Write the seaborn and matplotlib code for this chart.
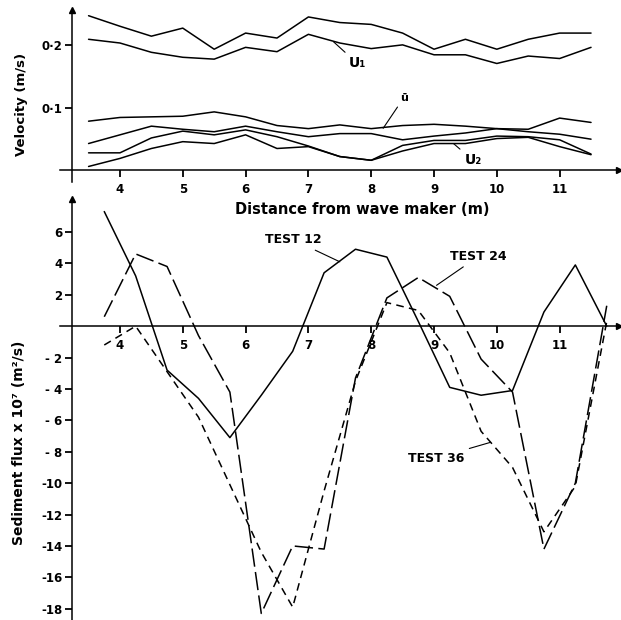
import pandas as pd
import seaborn as sns
import matplotlib.pyplot as plt

# --- top panel: velocities (m/s) along the flume ---
dist_top = [3.5, 4.0, 4.5, 5.0, 5.5, 6.0, 6.5, 7.0, 7.5, 8.0, 8.5, 9.0, 9.5, 10.0, 10.5, 11.0, 11.5]
u1_upper = [0.248, 0.231, 0.215, 0.228, 0.194, 0.220, 0.212, 0.246, 0.237, 0.234, 0.220, 0.194, 0.210, 0.194, 0.210, 0.220, 0.220]
u1_lower = [0.210, 0.204, 0.189, 0.181, 0.178, 0.197, 0.190, 0.218, 0.204, 0.195, 0.201, 0.185, 0.185, 0.171, 0.183, 0.179, 0.197]
ubar = [0.078, 0.084, 0.085, 0.086, 0.093, 0.085, 0.071, 0.066, 0.072, 0.066, 0.071, 0.073, 0.070, 0.066, 0.065, 0.083, 0.076]
mid_line = [0.042, 0.056, 0.070, 0.065, 0.061, 0.070, 0.061, 0.053, 0.058, 0.058, 0.048, 0.054, 0.059, 0.066, 0.061, 0.057, 0.049]
u2_upper = [0.027, 0.027, 0.051, 0.062, 0.056, 0.064, 0.053, 0.038, 0.021, 0.015, 0.039, 0.047, 0.047, 0.054, 0.053, 0.048, 0.025]
u2_lower = [0.005, 0.018, 0.034, 0.045, 0.042, 0.056, 0.034, 0.037, 0.021, 0.015, 0.030, 0.042, 0.042, 0.050, 0.052, 0.037, 0.024]

# --- bottom panel: sediment flux x 10^7 (m^2/s) ---
dist_flux = [3.75, 4.25, 4.75, 5.25, 5.75, 6.25, 6.75, 7.25, 7.75, 8.25, 8.75, 9.25, 9.75, 10.25, 10.75, 11.25, 11.75]
test12 = [7.3, 3.2, -2.8, -4.6, -7.1, -4.4, -1.6, 3.4, 4.9, 4.4, 0.3, -3.9, -4.4, -4.1, 0.9, 3.9, 0.0]
test24 = [0.6, 4.6, 3.8, -0.6, -4.2, -18.3, -14.0, -14.2, -3.3, 1.8, 3.1, 1.9, -2.1, -4.2, -14.2, -10.0, 1.3]
test36 = [-1.2, 0.0, -2.9, -5.8, -10.1, -14.4, -17.9, -10.5, -3.5, 1.5, 1.0, -1.7, -6.7, -9.0, -13.1, -10.2, 0.3]

top_names = ['u1_upper', 'u1_lower', 'ubar', 'mid', 'u2_upper', 'u2_lower']
top_series = [u1_upper, u1_lower, ubar, mid_line, u2_upper, u2_lower]
vel = pd.concat([pd.DataFrame({'distance': dist_top, 'velocity': v, 'series': n})
                 for n, v in zip(top_names, top_series)])
flux = pd.concat([pd.DataFrame({'distance': dist_flux, 'flux': v, 'test': n})
                  for n, v in zip(['TEST 12', 'TEST 24', 'TEST 36'], [test12, test24, test36])])

sns.set_style('ticks')
plt.rcParams['font.family'] = ['DejaVu Sans']
plt.rcParams['font.weight'] = 'bold'
for key in ('text.color', 'axes.labelcolor', 'xtick.color', 'ytick.color', 'axes.edgecolor'):
    plt.rcParams[key] = 'black'
for a in ('xtick', 'ytick'):
    plt.rcParams[a + '.major.size'] = 5
    plt.rcParams[a + '.major.width'] = 1.3
    plt.rcParams[a + '.direction'] = 'out'
    plt.rcParams[a + '.labelsize'] = 8.5
plt.rcParams['xtick.bottom'] = True
plt.rcParams['ytick.left'] = True

fig = plt.figure(figsize=(6.21, 6.2), dpi=100)
W, H = 621, 620


def px_axes(left, right, top, bottom):
    return fig.add_axes([left / W, 1 - bottom / H, (right - left) / W, (bottom - top) / H])


XL = (3.05, 11.95)
YAXIS_X = 3.236

ax1 = px_axes(60.3, 619.3, 9.5, 182)
sns.lineplot(data=vel, x='distance', y='velocity', units='series', estimator=None,
             color='black', lw=1.1, ax=ax1)
ax1.set_xlim(*XL)
ax1.set_ylim(-0.02, 0.258)

ax2 = px_axes(60.3, 619.3, 199, 620.5)
sns.lineplot(data=flux, x='distance', y='flux', hue='test', style='test',
             palette={'TEST 12': 'black', 'TEST 24': 'black', 'TEST 36': 'black'},
             dashes={'TEST 12': '', 'TEST 24': (12, 3.5), 'TEST 36': (5, 3.5)},
             lw=1.1, legend=False, ax=ax2)
ax2.set_xlim(*XL)
ax2.set_ylim(-18.75, 8.1)

for ax in (ax1, ax2):
    ax.patch.set_alpha(0)
    ax.spines['top'].set_visible(False)
    ax.spines['right'].set_visible(False)
    ax.spines['left'].set_position(('data', YAXIS_X))
    ax.spines['bottom'].set_position(('data', 0))
    for s in ('left', 'bottom'):
        ax.spines[s].set_linewidth(1.1)
    ax.set_xlabel('')
    ax.set_ylabel('')
    ax.set_xticks(range(4, 12))
    ax.set_xticklabels([str(i) for i in range(4, 12)])
    ax.tick_params(axis='both', which='major', length=5, width=1.3, color='black',
                   bottom=True, left=True, top=False, right=False)
    ax.tick_params(axis='y', pad=2)
    ax.plot(1, 0, '>k', ms=5, transform=ax.get_yaxis_transform(), clip_on=False)
    ax.plot(YAXIS_X, 1, '^k', ms=5, transform=ax.get_xaxis_transform(), clip_on=False)

ax1.tick_params(axis='x', pad=5)
ax2.tick_params(axis='x', pad=4)

ax1.set_yticks([0.1, 0.2])
ax1.set_yticklabels(['0·1', '0·2'])

flux_ticks = [6, 4, 2, -2, -4, -6, -8, -10, -12, -14, -16, -18]
flux_labels = ['6', '4', '2', '- 2', '- 4', '- 6', '- 8', '-10', '-12', '-14', '-16', '-18']
ax2.set_yticks(flux_ticks)
ax2.set_yticklabels(flux_labels)

lead = dict(arrowstyle='-', lw=0.8, color='black', shrinkA=1, shrinkB=0)
ax1.annotate('U₁', xy=(7.40, 0.206), xytext=(7.78, 0.171), ha='center', va='center',
             fontsize=10, fontweight='bold', arrowprops=lead)
ax1.annotate('ū', xy=(8.19, 0.0665), xytext=(8.52, 0.116), ha='center', va='center',
             fontsize=8, fontweight='bold', arrowprops=lead)
ax1.annotate('U₂', xy=(9.31, 0.042), xytext=(9.62, 0.015), ha='center', va='center',
             fontsize=10, fontweight='bold', arrowprops=lead)

ax2.annotate('TEST 12', xy=(7.50, 4.1), xytext=(6.76, 5.5), ha='center', va='center',
             fontsize=9, fontweight='bold', arrowprops=lead)
ax2.annotate('TEST 24', xy=(9.04, 2.6), xytext=(9.71, 4.45), ha='center', va='center',
             fontsize=9, fontweight='bold', arrowprops=lead)
ax2.annotate('TEST 36', xy=(9.90, -7.4), xytext=(9.04, -8.4), ha='center', va='center',
             fontsize=9, fontweight='bold', arrowprops=lead)

fig.text(362 / W, 1 - 209 / H, 'Distance from wave maker (m)', ha='center', va='center',
         fontsize=10.5, fontweight='bold')
fig.text(22 / W, 1 - 104 / H, 'Velocity (m/s)', ha='center', va='center', rotation=90,
         fontsize=9.5, fontweight='bold')
fig.text(19 / W, 1 - 443 / H, 'Sediment flux x 10⁷ (m²/s)', ha='center', va='center',
         rotation=90, fontsize=10, fontweight='bold')

fig.savefig('out.png', dpi=100, facecolor='white')
